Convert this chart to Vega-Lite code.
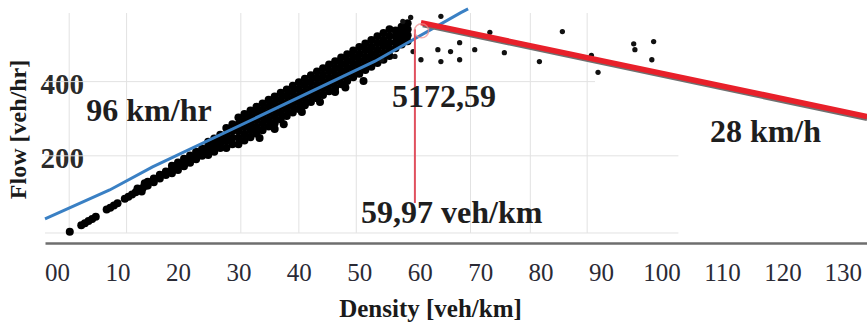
{
  "$schema": "https://vega.github.io/schema/vega-lite/v6.json",
  "width": 822,
  "height": 243,
  "autosize": {"type": "none"},
  "padding": {"left": 45, "top": 0, "right": 0, "bottom": 80},
  "background": "white",
  "config": {"view": {"stroke": null}, "font": "Liberation Serif"},
  "datasets": {
    "vgrid": [
      {"d": 2, "f": -8, "f2": 585}, {"d": 11.5, "f": -8, "f2": 585}, {"d": 30.4, "f": -8, "f2": 585},
      {"d": 40, "f": -8, "f2": 585}, {"d": 49.5, "f": -8, "f2": 585}, {"d": 68.4, "f": -8, "f2": 585},
      {"d": 78.3, "f": -8, "f2": 585}, {"d": 87.7, "f": -8, "f2": 585}
    ],
    "hgrid": [
      {"f": -8, "d": -2, "d2": 102.8}, {"f": 200, "d": -2, "d2": 102.8}, {"f": 400, "d": -2, "d2": 89}
    ],
    "band": [
      {"d": 2.1, "f": -5},
      {"d": 4.0, "f": 13}, {"d": 4.6, "f": 18}, {"d": 5.2, "f": 24}, {"d": 5.8, "f": 30}, {"d": 6.4, "f": 36},
      {"d": 8.2, "f": 55}, {"d": 8.8, "f": 60}, {"d": 9.4, "f": 66}, {"d": 10.0, "f": 72},
      {"d": 11.2, "f": 84}, {"d": 11.8, "f": 90}, {"d": 12.4, "f": 96}, {"d": 13.0, "f": 102}, {"d": 13.6, "f": 108},
      {"d": 14.2, "f": 114}, {"d": 14.8, "f": 120}, {"d": 13.3, "f": 112}, {"d": 14.0, "f": 104}, {"d": 14.5, "f": 126},
      {"d": 15, "f": 120}, {"d": 15, "f": 130},
      {"d": 16, "f": 129}, {"d": 16, "f": 139},
      {"d": 17, "f": 139}, {"d": 17, "f": 149},
      {"d": 18, "f": 148}, {"d": 18, "f": 158},
      {"d": 19, "f": 153}, {"d": 19, "f": 163}, {"d": 19, "f": 173},
      {"d": 20, "f": 162}, {"d": 20, "f": 172}, {"d": 20, "f": 182},
      {"d": 21, "f": 172}, {"d": 21, "f": 182}, {"d": 21, "f": 192},
      {"d": 22, "f": 181}, {"d": 22, "f": 191}, {"d": 22, "f": 201},
      {"d": 23, "f": 191}, {"d": 23, "f": 201}, {"d": 23, "f": 211},
      {"d": 24, "f": 200}, {"d": 24, "f": 210}, {"d": 24, "f": 220},
      {"d": 25, "f": 202}, {"d": 25, "f": 214}, {"d": 25, "f": 226}, {"d": 25, "f": 238},
      {"d": 26, "f": 211}, {"d": 26, "f": 223}, {"d": 26, "f": 235}, {"d": 26, "f": 247},
      {"d": 27, "f": 221}, {"d": 27, "f": 233}, {"d": 27, "f": 245}, {"d": 27, "f": 257},
      {"d": 28, "f": 221}, {"d": 28, "f": 239}, {"d": 28, "f": 257}, {"d": 28, "f": 275},
      {"d": 29, "f": 231}, {"d": 29, "f": 249}, {"d": 29, "f": 267}, {"d": 29, "f": 285},
      {"d": 30, "f": 231}, {"d": 30, "f": 249}, {"d": 30, "f": 267}, {"d": 30, "f": 285}, {"d": 30, "f": 303},
      {"d": 31, "f": 241}, {"d": 31, "f": 259}, {"d": 31, "f": 277}, {"d": 31, "f": 295}, {"d": 31, "f": 313},
      {"d": 32, "f": 250}, {"d": 32, "f": 268}, {"d": 32, "f": 286}, {"d": 32, "f": 304}, {"d": 32, "f": 322},
      {"d": 33, "f": 260}, {"d": 33, "f": 278}, {"d": 33, "f": 296}, {"d": 33, "f": 314}, {"d": 33, "f": 332},
      {"d": 34, "f": 269}, {"d": 34, "f": 287}, {"d": 34, "f": 305}, {"d": 34, "f": 323}, {"d": 34, "f": 341},
      {"d": 35, "f": 279}, {"d": 35, "f": 297}, {"d": 35, "f": 315}, {"d": 35, "f": 333}, {"d": 35, "f": 351},
      {"d": 36, "f": 288}, {"d": 36, "f": 306}, {"d": 36, "f": 324}, {"d": 36, "f": 342}, {"d": 36, "f": 360},
      {"d": 37, "f": 298}, {"d": 37, "f": 316}, {"d": 37, "f": 334}, {"d": 37, "f": 352}, {"d": 37, "f": 370},
      {"d": 38, "f": 307}, {"d": 38, "f": 325}, {"d": 38, "f": 343}, {"d": 38, "f": 361}, {"d": 38, "f": 379},
      {"d": 39, "f": 317}, {"d": 39, "f": 335}, {"d": 39, "f": 353}, {"d": 39, "f": 371}, {"d": 39, "f": 389},
      {"d": 40, "f": 326}, {"d": 40, "f": 344}, {"d": 40, "f": 362}, {"d": 40, "f": 380}, {"d": 40, "f": 398},
      {"d": 41, "f": 336}, {"d": 41, "f": 354}, {"d": 41, "f": 372}, {"d": 41, "f": 390}, {"d": 41, "f": 408},
      {"d": 42, "f": 345}, {"d": 42, "f": 363}, {"d": 42, "f": 381}, {"d": 42, "f": 399}, {"d": 42, "f": 417},
      {"d": 43, "f": 355}, {"d": 43, "f": 373}, {"d": 43, "f": 391}, {"d": 43, "f": 409}, {"d": 43, "f": 427},
      {"d": 44, "f": 364}, {"d": 44, "f": 382}, {"d": 44, "f": 400}, {"d": 44, "f": 418}, {"d": 44, "f": 436},
      {"d": 45, "f": 374}, {"d": 45, "f": 392}, {"d": 45, "f": 410}, {"d": 45, "f": 428}, {"d": 45, "f": 446},
      {"d": 46, "f": 383}, {"d": 46, "f": 401}, {"d": 46, "f": 419}, {"d": 46, "f": 437}, {"d": 46, "f": 455},
      {"d": 47, "f": 393}, {"d": 47, "f": 411}, {"d": 47, "f": 429}, {"d": 47, "f": 447}, {"d": 47, "f": 465},
      {"d": 48, "f": 402}, {"d": 48, "f": 420}, {"d": 48, "f": 438}, {"d": 48, "f": 456}, {"d": 48, "f": 474},
      {"d": 49, "f": 412}, {"d": 49, "f": 430}, {"d": 49, "f": 448}, {"d": 49, "f": 466}, {"d": 49, "f": 484},
      {"d": 50, "f": 421}, {"d": 50, "f": 439}, {"d": 50, "f": 457}, {"d": 50, "f": 475}, {"d": 50, "f": 493},
      {"d": 51, "f": 431}, {"d": 51, "f": 449}, {"d": 51, "f": 467}, {"d": 51, "f": 485}, {"d": 51, "f": 503},
      {"d": 52, "f": 440}, {"d": 52, "f": 458}, {"d": 52, "f": 476}, {"d": 52, "f": 494}, {"d": 52, "f": 512},
      {"d": 53, "f": 450}, {"d": 53, "f": 468}, {"d": 53, "f": 486}, {"d": 53, "f": 504}, {"d": 53, "f": 522},
      {"d": 54, "f": 459}, {"d": 54, "f": 477}, {"d": 54, "f": 495}, {"d": 54, "f": 513}, {"d": 54, "f": 531},
      {"d": 55, "f": 469}, {"d": 55, "f": 487}, {"d": 55, "f": 505}, {"d": 55, "f": 523}, {"d": 55, "f": 541},
      {"d": 56, "f": 490}, {"d": 56, "f": 506}, {"d": 56, "f": 522}, {"d": 56, "f": 538},
      {"d": 57, "f": 500}, {"d": 57, "f": 516}, {"d": 57, "f": 532}, {"d": 57, "f": 548},
      {"d": 58, "f": 509}, {"d": 58, "f": 525}, {"d": 58, "f": 541}, {"d": 58, "f": 557},
      {"d": 33.5, "f": 248}, {"d": 36, "f": 272}, {"d": 37.5, "f": 285}, {"d": 40.5, "f": 318},
      {"d": 43.5, "f": 345}, {"d": 46, "f": 372}, {"d": 47.7, "f": 384}, {"d": 50.7, "f": 402}
    ],
    "cong": [
      {"d": 57.2, "f": 562}, {"d": 58.5, "f": 573}, {"d": 63.5, "f": 576}, {"d": 66.6, "f": 505},
      {"d": 63, "f": 486}, {"d": 65.1, "f": 481}, {"d": 69.1, "f": 486}, {"d": 74, "f": 478},
      {"d": 83.6, "f": 535}, {"d": 79.8, "f": 454}, {"d": 63.5, "f": 454}, {"d": 66.6, "f": 459},
      {"d": 58.9, "f": 481}, {"d": 60.2, "f": 459}, {"d": 55.9, "f": 468}, {"d": 53.7, "f": 459},
      {"d": 71.6, "f": 533}, {"d": 88.4, "f": 471}, {"d": 89.5, "f": 425},
      {"d": 95.4, "f": 502}, {"d": 95.6, "f": 486}, {"d": 98.7, "f": 508}, {"d": 98.4, "f": 459}
    ],
    "blue": [
      {"d": -2, "f": 30}, {"d": 8.7, "f": 108}, {"d": 15.8, "f": 170}, {"d": 52.6, "f": 455}, {"d": 66.8, "f": 586}, {"d": 68, "f": 596}
    ],
    "red": [{"d": 60.2, "f": 559}, {"d": 134, "f": 306}],
    "shadow": [{"d": 60.5, "f": 552}, {"d": 134, "f": 299}],
    "vred": [{"d": 59.2, "f": 541, "f2": 73}],
    "peak": [{"d": 60.3, "f": 537}],
    "notes": [
      {"d": 15.2, "f": 321, "label": "96 km/hr"},
      {"d": 64.0, "f": 358, "label": "5172,59"},
      {"d": 65.3, "f": 46, "label": "59,97 veh/km"},
      {"d": 117.2, "f": 264, "label": "28 km/h"}
    ]
  },
  "layer": [
    {
      "data": {"name": "vgrid"},
      "mark": {"type": "rule", "color": "#e2e2e2", "strokeWidth": 1},
      "encoding": {
        "x": {
          "field": "d", "type": "quantitative",
          "scale": {"domain": [-2, 134], "nice": false, "zero": false},
          "axis": {
            "title": "Density [veh/km]",
            "values": [0, 10, 20, 30, 40, 50, 60, 70, 80, 90, 100, 110, 120, 130],
            "labelExpr": "datum.value == 0 ? '00' : datum.label",
            "grid": false, "ticks": false, "tickSize": 0,
            "domainColor": "#6e6e6e", "domainWidth": 2.5,
            "labelFont": "Liberation Serif", "labelFontSize": 25, "labelColor": "#2a2a35",
            "labelBaseline": "middle", "labelPadding": 29, "labelFlush": false, "labelOverlap": false,
            "titleFont": "Liberation Serif", "titleFontSize": 25, "titleFontWeight": "bold", "titleColor": "#1a1a1a",
            "titleX": 385, "titleY": 65, "titleBaseline": "middle", "titleAlign": "center"
          }
        },
        "y": {
          "field": "f", "type": "quantitative",
          "scale": {"domain": [-35, 620], "nice": false, "zero": false},
          "axis": {
            "title": "Flow [veh/hr]",
            "values": [200, 400],
            "grid": false, "ticks": false, "tickSize": 0, "domain": false,
            "labelAlign": "left", "labelPadding": 5, "labelBaseline": "middle", "labelOffset": 3,
            "labelFont": "Liberation Serif", "labelFontSize": 29, "labelFontWeight": "bold", "labelColor": "#2b2b2b",
            "titleFont": "Liberation Serif", "titleFontSize": 24, "titleFontWeight": "bold", "titleColor": "#1a1a1a",
            "titleX": -27, "titleY": 129, "titleBaseline": "middle", "titleAngle": -90
          }
        },
        "y2": {"field": "f2"}
      }
    },
    {
      "data": {"name": "hgrid"},
      "mark": {"type": "rule", "color": "#e2e2e2", "strokeWidth": 1},
      "encoding": {
        "y": {"field": "f", "type": "quantitative"},
        "x": {"field": "d", "type": "quantitative"},
        "x2": {"field": "d2"}
      }
    },
    {
      "data": {"name": "band"},
      "mark": {"type": "circle", "color": "#000000", "opacity": 1, "size": 64},
      "encoding": {
        "x": {"field": "d", "type": "quantitative"},
        "y": {"field": "f", "type": "quantitative"}
      }
    },
    {
      "data": {"name": "cong"},
      "mark": {"type": "circle", "color": "#111111", "opacity": 1, "size": 28},
      "encoding": {
        "x": {"field": "d", "type": "quantitative"},
        "y": {"field": "f", "type": "quantitative"}
      }
    },
    {
      "data": {"name": "blue"},
      "mark": {"type": "line", "color": "#3a80c4", "strokeWidth": 3},
      "encoding": {
        "x": {"field": "d", "type": "quantitative"},
        "y": {"field": "f", "type": "quantitative"}
      }
    },
    {
      "data": {"name": "shadow"},
      "mark": {"type": "line", "color": "#707070", "strokeWidth": 4},
      "encoding": {
        "x": {"field": "d", "type": "quantitative"},
        "y": {"field": "f", "type": "quantitative"}
      }
    },
    {
      "data": {"name": "red"},
      "mark": {"type": "line", "color": "#e8202a", "strokeWidth": 5.5},
      "encoding": {
        "x": {"field": "d", "type": "quantitative"},
        "y": {"field": "f", "type": "quantitative"}
      }
    },
    {
      "data": {"name": "vred"},
      "mark": {"type": "rule", "color": "#e0505e", "strokeWidth": 2},
      "encoding": {
        "x": {"field": "d", "type": "quantitative"},
        "y": {"field": "f", "type": "quantitative"},
        "y2": {"field": "f2"}
      }
    },
    {
      "data": {"name": "peak"},
      "mark": {"type": "point", "shape": "circle", "filled": false, "color": "#f08c8c", "strokeWidth": 1.5, "size": 200},
      "encoding": {
        "x": {"field": "d", "type": "quantitative"},
        "y": {"field": "f", "type": "quantitative"}
      }
    },
    {
      "data": {"name": "notes"},
      "mark": {"type": "text", "font": "Liberation Serif", "fontSize": 32, "fontWeight": "bold", "color": "#1e1e1e", "align": "center", "baseline": "middle"},
      "encoding": {
        "x": {"field": "d", "type": "quantitative"},
        "y": {"field": "f", "type": "quantitative"},
        "text": {"field": "label"}
      }
    }
  ]
}
